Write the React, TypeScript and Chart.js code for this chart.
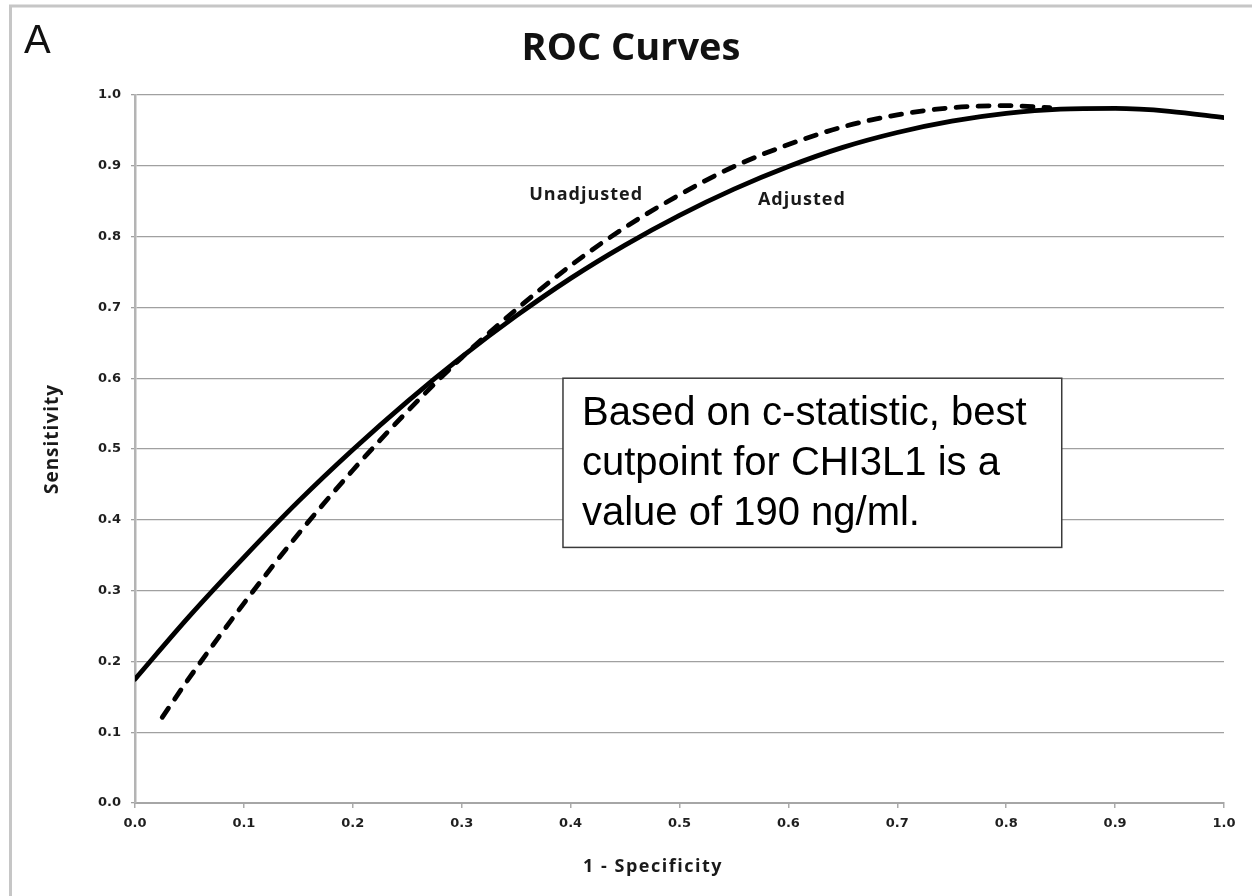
import React, { useEffect, useRef } from "react";
import { Chart, registerables } from "chart.js";

Chart.register(...registerables);

// ---- Data ----
const fprAdjusted = [0, 0.05, 0.1, 0.15, 0.2, 0.25, 0.3, 0.35, 0.4, 0.45, 0.5, 0.55, 0.6, 0.65, 0.7, 0.75, 0.8, 0.85, 0.9, 0.95, 1.0];
const sensAdjusted = [0.175, 0.264, 0.347, 0.426, 0.499, 0.567, 0.63, 0.688, 0.741, 0.788, 0.83, 0.867, 0.899, 0.926, 0.947, 0.963, 0.974, 0.98, 0.981, 0.977, 0.968];

const fprUnadjusted = [0.025, 0.05, 0.1, 0.15, 0.2, 0.25, 0.3, 0.35, 0.4, 0.45, 0.5, 0.55, 0.6, 0.65, 0.7, 0.75, 0.8, 0.84];
const sensUnadjusted = [0.121, 0.177, 0.282, 0.38, 0.47, 0.553, 0.629, 0.697, 0.759, 0.813, 0.859, 0.899, 0.93, 0.955, 0.972, 0.982, 0.985, 0.982];

const tickValues = [0, 0.1, 0.2, 0.3, 0.4, 0.5, 0.6, 0.7, 0.8, 0.9, 1.0];
const tickLabels = ["0.0", "0.1", "0.2", "0.3", "0.4", "0.5", "0.6", "0.7", "0.8", "0.9", "1.0"];

const panelLetter = "A";
const chartTitle = "ROC Curves";
const xAxisTitle = "1 - Specificity";
const yAxisTitle = "Sensitivity";
const seriesNames = ["Adjusted", "Unadjusted"];
const noteLines = ["Based on c-statistic, best", "cutpoint for CHI3L1 is a", "value of 190 ng/ml."];

const W = 1252;
const H = 896;

const decorPlugin = {
  id: "decor",
  beforeDraw(chart: any) {
    const ctx = chart.ctx;
    ctx.save();
    ctx.fillStyle = "#ffffff";
    ctx.fillRect(0, 0, chart.width, chart.height);
    ctx.strokeStyle = "#c6c6c6";
    ctx.lineWidth = 3;
    ctx.beginPath();
    ctx.moveTo(10.5, chart.height);
    ctx.lineTo(10.5, 6);
    ctx.lineTo(chart.width, 6);
    ctx.stroke();
    ctx.restore();
  },
  afterDraw(chart: any) {
    const ctx = chart.ctx;
    const xs = chart.scales.x;
    const ys = chart.scales.y;
    ctx.save();

    // panel letter
    ctx.fillStyle = "#111";
    ctx.font = '40px "Liberation Sans"';
    ctx.textAlign = "left";
    ctx.textBaseline = "alphabetic";
    ctx.fillText(panelLetter, 24, 53);

    // title
    ctx.font = 'bold 38px "Open Sans"';
    ctx.textAlign = "center";
    ctx.fillStyle = "#111";
    ctx.fillText(chartTitle, 631, 60);

    // axis titles
    ctx.fillStyle = "#1a1a1a";
    ctx.textAlign = "center";
    ctx.font = 'bold 18px "Open Sans"';
    (ctx as any).letterSpacing = "1.5px";
    ctx.fillText(xAxisTitle, 653, 872);

    ctx.font = 'bold 19px "Open Sans"';
    (ctx as any).letterSpacing = "1px";
    ctx.save();
    ctx.translate(58, 439);
    ctx.rotate(-Math.PI / 2);
    ctx.fillText(yAxisTitle, 0, 0);
    ctx.restore();

    // series labels
    ctx.font = 'bold 18px "Open Sans"';
    (ctx as any).letterSpacing = "1px";
    ctx.textAlign = "left";
    ctx.fillText(seriesNames[1], xs.getPixelForValue(0.362), ys.getPixelForValue(0.852));
    ctx.fillText(seriesNames[0], xs.getPixelForValue(0.572), ys.getPixelForValue(0.845));
    (ctx as any).letterSpacing = "0px";

    // note box
    const bx0 = xs.getPixelForValue(0.393);
    const bx1 = xs.getPixelForValue(0.851);
    const by0 = ys.getPixelForValue(0.6);
    const by1 = ys.getPixelForValue(0.361);
    ctx.fillStyle = "#ffffff";
    ctx.fillRect(bx0, by0, bx1 - bx0, by1 - by0);
    ctx.strokeStyle = "#3a3a3a";
    ctx.lineWidth = 1.5;
    ctx.strokeRect(bx0, by0, bx1 - bx0, by1 - by0);
    ctx.fillStyle = "#000";
    ctx.font = '40px "Liberation Sans"';
    ctx.textAlign = "left";
    noteLines.forEach((line, i) => {
      ctx.fillText(line, bx0 + 19, by0 + 47 + i * 50);
    });

    ctx.restore();
  },
};

export default function App() {
  const canvasRef = useRef<HTMLCanvasElement | null>(null);

  useEffect(() => {
    const canvas = canvasRef.current;
    if (!canvas) return;
    const tickFont = { family: '"DejaVu Sans"', weight: "bold" as const, size: 13 };
    const labelFor = (v: any) => tickLabels[tickValues.findIndex((t) => Math.abs(t - Number(v)) < 1e-6)] ?? "";
    const chart = new Chart(canvas, {
      type: "line",
      data: {
        datasets: [
          {
            label: seriesNames[0],
            data: fprAdjusted.map((x, i) => ({ x, y: sensAdjusted[i] })),
            borderColor: "#000000",
            borderWidth: 4.8,
            pointRadius: 0,
            fill: false,
            cubicInterpolationMode: "monotone",
            borderCapStyle: "round",
          },
          {
            label: seriesNames[1],
            data: fprUnadjusted.map((x, i) => ({ x, y: sensUnadjusted[i] })),
            borderColor: "#000000",
            borderWidth: 4.8,
            borderDash: [11, 11],
            borderCapStyle: "round",
            pointRadius: 0,
            fill: false,
            cubicInterpolationMode: "monotone",
          },
        ],
      },
      options: {
        animation: false,
        responsive: false,
        devicePixelRatio: 1,
        layout: { padding: { left: 0, top: 95, right: 28, bottom: 0 } },
        plugins: {
          legend: { display: false },
          title: { display: false },
          tooltip: { enabled: false },
        },
        scales: {
          x: {
            type: "linear",
            min: 0,
            max: 1,
            afterFit: (scale: any) => {
              scale.height = 93;
            },
            afterBuildTicks: (scale: any) => {
              scale.ticks = tickValues.map((v) => ({ value: v }));
            },
            ticks: {
              font: tickFont,
              color: "#1f1f1f",
              padding: 8,
              maxRotation: 0,
              autoSkip: false,
              callback: labelFor,
            },
            grid: {
              drawOnChartArea: false,
              drawTicks: true,
              tickLength: 5,
              color: "#ababab",
              lineWidth: 1.5,
            },
            border: { display: true, color: "#a6a6a6", width: 2 },
          },
          y: {
            type: "linear",
            min: 0,
            max: 1,
            afterFit: (scale: any) => {
              scale.width = 135;
            },
            afterBuildTicks: (scale: any) => {
              scale.ticks = tickValues.map((v) => ({ value: v }));
            },
            ticks: {
              font: tickFont,
              color: "#1f1f1f",
              padding: 10,
              autoSkip: false,
              callback: labelFor,
            },
            grid: {
              drawOnChartArea: true,
              drawTicks: true,
              tickLength: 4,
              color: "#a0a0a0",
              lineWidth: 1.3,
            },
            border: { display: true, color: "#b4b4b4", width: 2.5 },
          },
        },
      },
      plugins: [decorPlugin],
    } as any);
    return () => chart.destroy();
  }, []);

  return (
    <div style={{ position: "absolute", left: 0, top: 0, width: W, height: H, background: "#fff" }}>
      <canvas ref={canvasRef} width={W} height={H} style={{ display: "block", width: W, height: H }} />
    </div>
  );
}
